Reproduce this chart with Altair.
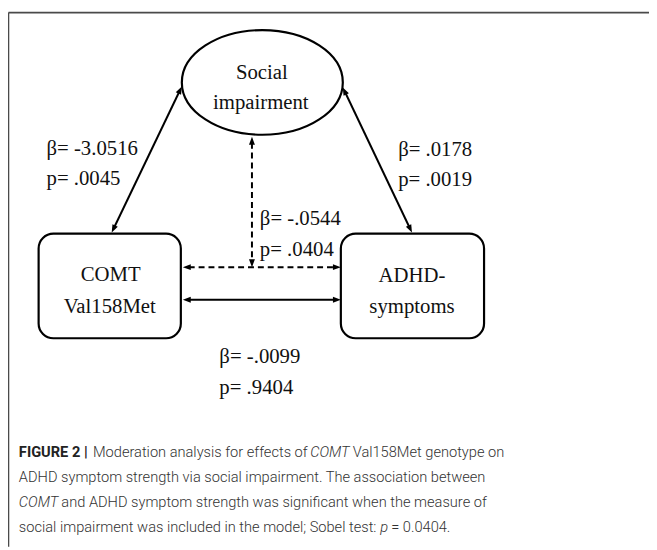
import math
import altair as alt
import pandas as pd

# ---- diagram content ----
ellipse_center = [265.5, 80.0]
ellipse_rx = 81.5
ellipse_ry_ratio = 0.65

box_left = [39, 233, 183, 339]
box_right = [345, 233, 490, 339]

node_text = ["Social", "impairment", "COMT", "Val158Met", "ADHD-", "symptoms"]
node_text_x = [265, 264, 112, 111, 417, 417]
node_text_y = [76, 107, 281, 313, 282, 313]

coef_text = ["β= -3.0516", "p= .0045", "β= .0178", "p= .0019",
             "β= -.0544", "p= .0404", "β= -.0099", "p= .9404"]
coef_x = [47, 47, 403, 403, 263, 263, 222, 222]
coef_y = [153, 184, 154, 185, 224, 256, 364, 395]

# edges: x1, y1, x2, y2, dashed
edge_x1 = [184, 347, 255, 185, 185]
edge_y1 = [84, 85, 135, 267, 300]
edge_x2 = [113, 417, 255, 345, 345]
edge_y2 = [232, 232, 267, 267, 300]
edge_dashed = [False, False, True, True, False]

cap_text = ["FIGURE 2 |", "Moderation analysis for effects of", "COMT", "Val158Met genotype on",
            "ADHD symptom strength via social impairment. The association between",
            "COMT", "and ADHD symptom strength was significant when the measure of",
            "social impairment was included in the model; Sobel test:", "p", "= 0.0404."]
cap_x = [19, 94, 314, 357, 19, 19, 62, 19, 385, 396]
cap_y = [459, 459, 459, 459, 485, 510, 510, 535, 535, 535]
cap_style = ["bold", "normal", "italic", "normal", "normal", "italic", "normal", "normal", "italic", "normal"]

# ---- build tables ----
HEAD = 4.0  # half-size of arrowhead symbol in px
lines_rows, heads_rows = [], []
for x1, y1, x2, y2, dsh in zip(edge_x1, edge_y1, edge_x2, edge_y2, edge_dashed):
    L = math.hypot(x2 - x1, y2 - y1)
    dx, dy = (x2 - x1) / L, (y2 - y1) / L
    lines_rows.append(dict(x=x1 + 6 * dx, y=y1 + 6 * dy, x2=x2 - 6 * dx, y2=y2 - 6 * dy,
                           dash="d" if dsh else "s"))
    for tx, ty, ux, uy in [(x2, y2, dx, dy), (x1, y1, -dx, -dy)]:
        ang = math.degrees(math.atan2(ux, -uy)) % 360
        heads_rows.append(dict(x=tx - HEAD * ux, y=ty - HEAD * uy, angle=ang))

lines_df = pd.DataFrame(lines_rows)
heads_df = pd.DataFrame(heads_rows)

xs = alt.Scale(domain=[8, 657], nice=False, zero=False)
ys = alt.Scale(domain=[8, 550], nice=False, zero=False, reverse=True)
X = lambda f="x": alt.X(f"{f}:Q", scale=xs, axis=None)
Y = lambda f="y": alt.Y(f"{f}:Q", scale=ys, axis=None)

border = alt.Chart(pd.DataFrame({"x": [8.5, 8.5], "y": [9.3, 9.3], "x2": [657, 8.5], "y2": [9.3, 550]})).mark_rule(
    color="#4a4a4a", strokeWidth=1.6).encode(x=X(), y=Y(), x2="x2:Q", y2="y2:Q")

solid = alt.Chart(lines_df[lines_df.dash == "s"]).mark_rule(color="black", strokeWidth=2).encode(
    x=X(), y=Y(), x2="x2:Q", y2="y2:Q")
dashed = alt.Chart(lines_df[lines_df.dash == "d"]).mark_rule(color="black", strokeWidth=2, strokeDash=[6, 4]).encode(
    x=X(), y=Y(), x2="x2:Q", y2="y2:Q")

heads = alt.Chart(heads_df).mark_point(
    shape="M0,-1L0.75,1L-0.75,1Z", filled=True, color="black", opacity=1, size=(2 * HEAD) ** 2
).encode(x=X(), y=Y(), angle=alt.Angle("angle:Q", scale=None))

ellipse = alt.Chart(pd.DataFrame({"x": [ellipse_center[0]], "y": [ellipse_center[1]]})).mark_point(
    shape=f"M-1,0A1,{ellipse_ry_ratio},0,1,1,1,0A1,{ellipse_ry_ratio},0,1,1,-1,0Z",
    filled=False, stroke="black", strokeWidth=2.2, opacity=1, size=(2 * ellipse_rx) ** 2
).encode(x=X(), y=Y())

boxes = alt.Chart(pd.DataFrame({"x": [box_left[0], box_right[0]], "y": [box_left[1], box_right[1]],
                                "x2": [box_left[2], box_right[2]], "y2": [box_left[3], box_right[3]]})).mark_rect(
    cornerRadius=15, fill="white", stroke="black", strokeWidth=2.2).encode(x=X(), y=Y(), x2="x2:Q", y2="y2:Q")

serif = "Liberation Serif, Times New Roman, serif"
ntext = alt.Chart(pd.DataFrame({"t": node_text, "x": node_text_x, "y": node_text_y})).mark_text(
    font=serif, fontSize=21, align="center", baseline="alphabetic", color="#111").encode(x=X(), y=Y(), text="t:N")
ctext = alt.Chart(pd.DataFrame({"t": coef_text, "x": coef_x, "y": coef_y})).mark_text(
    font=serif, fontSize=21, align="left", baseline="alphabetic", color="#111").encode(x=X(), y=Y(), text="t:N")

cap_df = pd.DataFrame({"t": cap_text, "x": cap_x, "y": cap_y, "s": cap_style})
sans = "Roboto, Liberation Sans, sans-serif"
cap_layers = []
for st in ["normal", "bold", "italic"]:
    kw = dict(font=sans, fontSize=14.8, align="left", baseline="alphabetic",
              color="#222" if st == "bold" else "#333")
    kw["fontWeight"] = "bold" if st == "bold" else 300
    if st == "italic":
        kw["fontStyle"] = "italic"
    cap_layers.append(alt.Chart(cap_df[cap_df.s == st]).mark_text(**kw).encode(x=X(), y=Y(), text="t:N"))

chart = alt.layer(border, solid, dashed, boxes, ellipse, heads, ntext, ctext, *cap_layers).properties(
    width=649, height=542, padding=0, autosize="none", background="white"
).configure_view(stroke=None)

chart.save("out.html", embed_options={"renderer": "svg", "actions": False})
